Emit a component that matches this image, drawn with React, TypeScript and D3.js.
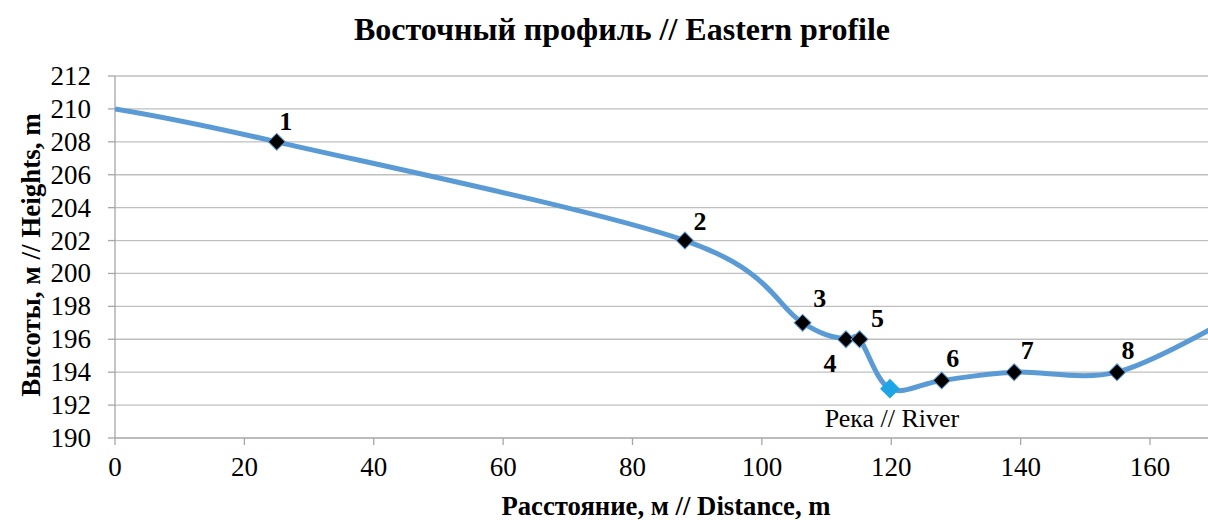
import React, { useEffect, useRef } from 'react';
import * as d3 from 'd3';

interface Pt { x: number; y: number; label: string; river?: boolean }

// profile points (x = distance, y = height)
const profileX = [0, 25, 88.1, 106.3, 113, 115.1, 119.8, 127.8, 139, 154.9, 172];
const profileY = [210, 208, 202, 197, 196, 196, 193, 193.5, 194, 194, 197.2];
const pointLabels = ['', '1', '2', '3', '4', '5', 'Река // River', '6', '7', '8', ''];
const xTicks = [0, 20, 40, 60, 80, 100, 120, 140, 160];
const yTicks = [190, 192, 194, 196, 198, 200, 202, 204, 206, 208, 210, 212];

const FONT = "'Times New Roman', 'Liberation Serif', 'DejaVu Serif', serif";

const App: React.FC = () => {
  const svgRef = useRef<SVGSVGElement>(null);

  useEffect(() => {
    if (!svgRef.current) return;
    const svg = d3.select(svgRef.current);
    svg.selectAll('*').remove();

    const width = 1208;
    const height = 520;
    const left = 115;
    const top = 76;
    const bottom = 438;

    const x = d3.scaleLinear().domain([0, 160]).range([left, 1150]);
    const y = d3.scaleLinear().domain([190, 212]).range([bottom, top]);

    const data: Pt[] = profileX.map((v, i) => ({
      x: v, y: profileY[i], label: pointLabels[i], river: i === 6,
    }));

    svg.append('rect').attr('width', width).attr('height', height).attr('fill', '#fff');

    // gridlines
    svg.append('g').selectAll('line').data(yTicks.slice(1)).enter().append('line')
      .attr('x1', left).attr('x2', width).attr('y1', d => y(d)).attr('y2', d => y(d))
      .attr('stroke', '#bfbfbf').attr('stroke-width', 1.3);

    // axes
    svg.append('line').attr('x1', left).attr('x2', left).attr('y1', top).attr('y2', bottom)
      .attr('stroke', '#a6a6a6').attr('stroke-width', 1.3);
    svg.append('line').attr('x1', left).attr('x2', width).attr('y1', bottom).attr('y2', bottom)
      .attr('stroke', '#a6a6a6').attr('stroke-width', 1.3);

    svg.append('g').selectAll('line').data(yTicks).enter().append('line')
      .attr('x1', left - 7).attr('x2', left).attr('y1', d => y(d)).attr('y2', d => y(d))
      .attr('stroke', '#a6a6a6').attr('stroke-width', 1.3);
    svg.append('g').selectAll('line').data(xTicks).enter().append('line')
      .attr('x1', d => x(d)).attr('x2', d => x(d)).attr('y1', bottom).attr('y2', bottom + 7)
      .attr('stroke', '#a6a6a6').attr('stroke-width', 1.3);

    svg.append('g').selectAll('text').data(yTicks).enter().append('text')
      .attr('x', 91).attr('y', d => y(d) + 9).attr('text-anchor', 'end')
      .attr('font-family', FONT).attr('font-size', 27).attr('fill', '#000')
      .text(d => d);
    svg.append('g').selectAll('text').data(xTicks).enter().append('text')
      .attr('x', d => x(d)).attr('y', 476).attr('text-anchor', 'middle')
      .attr('font-family', FONT).attr('font-size', 27).attr('fill', '#000')
      .text(d => d);

    // smooth line
    const line = d3.line<Pt>().x(d => x(d.x)).y(d => y(d.y)).curve(d3.curveCatmullRom.alpha(0));
    svg.append('clipPath').attr('id', 'plotclip').append('rect')
      .attr('x', left).attr('y', 0).attr('width', width - left).attr('height', height);
    svg.append('path').datum(data).attr('d', line).attr('fill', 'none')
      .attr('stroke', '#5b9bd5').attr('stroke-width', 5).attr('clip-path', 'url(#plotclip)');

    // markers
    const marked = data.filter(d => d.label !== '');
    svg.append('g').selectAll('path').data(marked).enter().append('path')
      .attr('transform', d => `translate(${x(d.x)},${y(d.y)}) rotate(45)`)
      .attr('d', d => (d.river ? 'M-6.5,-6.5H6.5V6.5H-6.5Z' : 'M-6,-6H6V6H-6Z'))
      .attr('fill', d => (d.river ? '#1ea5e6' : '#000'))
      .attr('stroke', d => (d.river ? '#1ea5e6' : '#5b9bd5')).attr('stroke-width', 1);

    // point labels
    const offsets: Record<string, [number, number, string]> = {
      '1': [9, -12, 'bold'], '2': [15, -11, 'bold'], '3': [17, -16, 'bold'],
      '4': [-16, 33, 'bold'], '5': [18, -12, 'bold'], '6': [11, -13, 'bold'],
      '7': [13, -13, 'bold'], '8': [11, -13, 'bold'], 'Река // River': [2, 38, 'normal'],
    };
    svg.append('g').selectAll('text').data(marked).enter().append('text')
      .attr('x', d => x(d.x) + offsets[d.label][0])
      .attr('y', d => y(d.y) + offsets[d.label][1])
      .attr('text-anchor', 'middle')
      .attr('font-family', FONT).attr('font-size', 26)
      .attr('font-weight', d => offsets[d.label][2])
      .attr('fill', '#000')
      .text(d => d.label);

    // titles
    svg.append('text').attr('x', 622).attr('y', 40).attr('text-anchor', 'middle')
      .attr('font-family', FONT).attr('font-size', 32).attr('font-weight', 'bold')
      .text('Восточный профиль // Eastern profile');
    svg.append('text').attr('x', 666).attr('y', 515).attr('text-anchor', 'middle')
      .attr('font-family', FONT).attr('font-size', 26.7).attr('font-weight', 'bold')
      .text('Расстояние, м // Distance, m');
    svg.append('text').attr('transform', 'translate(40,255) rotate(-90)').attr('text-anchor', 'middle')
      .attr('font-family', FONT).attr('font-size', 27).attr('font-weight', 'bold')
      .text('Высоты, м // Heights, m');
  }, []);

  return <svg ref={svgRef} width={1208} height={520} style={{ display: 'block', position: 'absolute', left: 0, top: 0 }} />;
};

export default App;
